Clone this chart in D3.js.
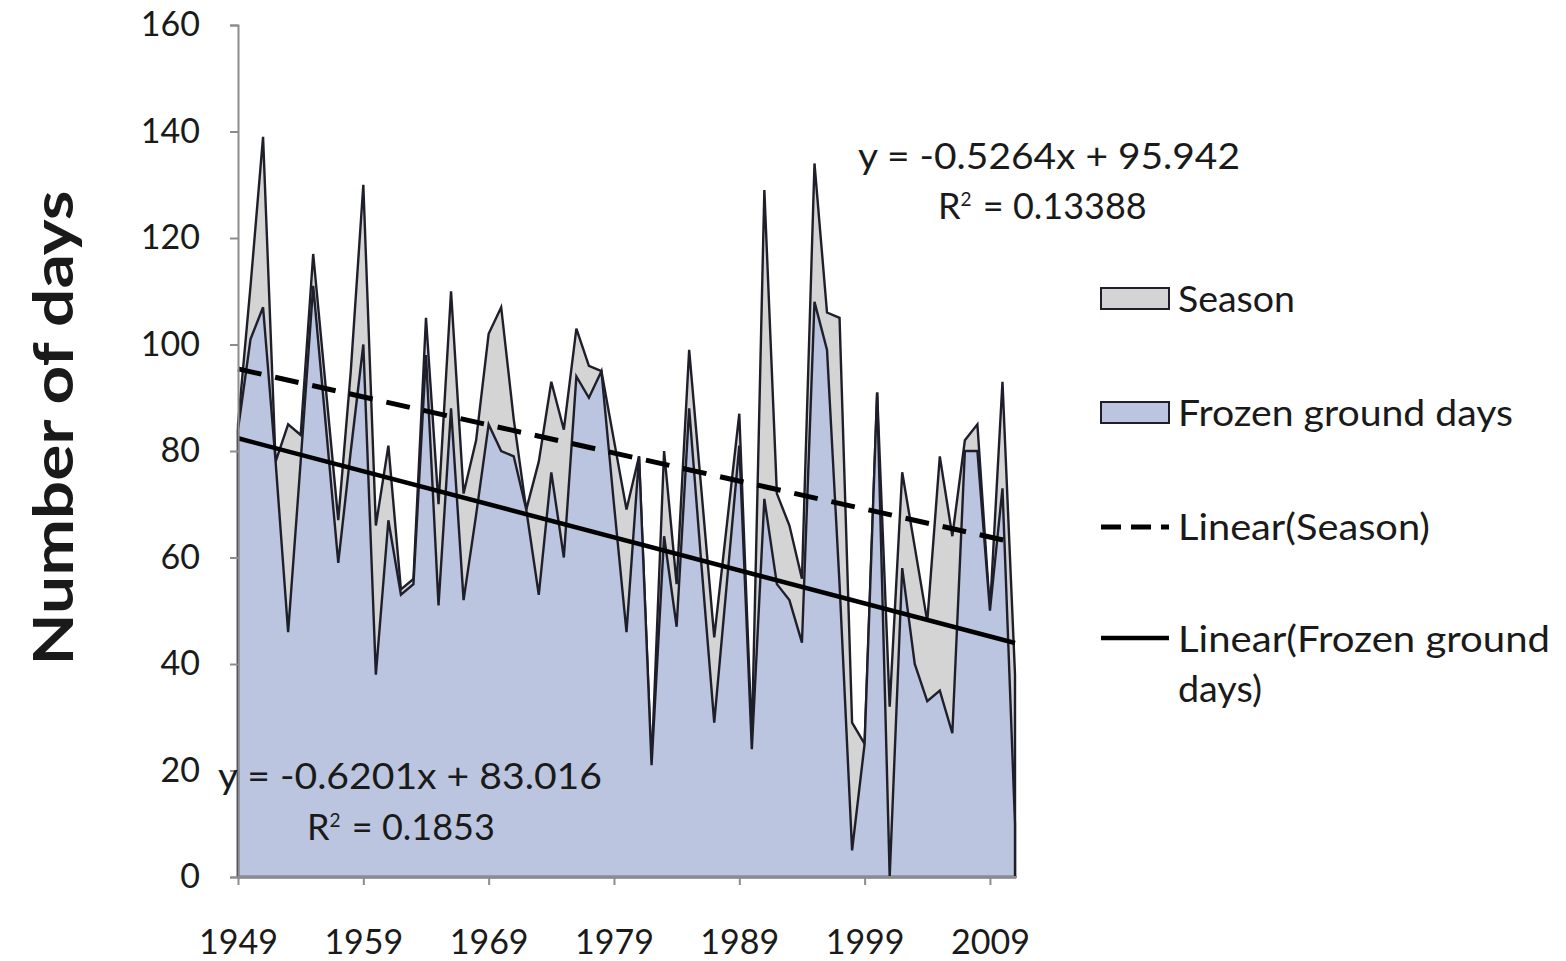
<!DOCTYPE html>
<html>
<head>
<meta charset="utf-8">
<script src="https://cdn.jsdelivr.net/npm/d3@7"></script>
<style>
  html, body { margin: 0; padding: 0; background: #fff; }
  svg { display: block; }
  text { font-family: Lato, "Open Sans", sans-serif; fill: #1a1a1a; }
</style>
</head>
<body>
<svg id="chart" width="1566" height="961"></svg>
<script>
// Years on the category axis
const years = d3.range(1949, 2012);
// Tick labels shown along the axes
const yearTicks = [1949, 1959, 1969, 1979, 1989, 1999, 2009];
const dayTicks = [0, 20, 40, 60, 80, 100, 120, 140, 160];

// Length of the season (days), 1949-2011
const season = [
  85, 111, 139, 78, 85, 83, 117, 92, 67, 95,
  130, 66, 81, 54, 56, 105, 70, 110, 72, 82,
  102, 107, 86, 69, 78, 93, 84, 103, 96, 95,
  82, 69, 79, 21, 80, 55, 99, 72, 45, 66,
  87, 26, 129, 72, 66, 56, 134, 106, 105, 29,
  25, 91, 32, 76, 62, 48, 79, 64, 82, 85,
  50, 93, 38
];
// Frozen ground days, 1949-2011
const frozen = [
  84, 101, 107, 78, 46, 78, 111, 85, 59, 80,
  100, 38, 67, 53, 55, 98, 51, 88, 52, 68,
  85, 80, 79, 69, 53, 76, 60, 94, 90, 95,
  70, 46, 79, 21, 64, 47, 88, 58, 29, 55,
  81, 24, 71, 55, 52, 44, 108, 99, 55, 5,
  25, 91, 0, 58, 40, 33, 35, 27, 80, 80,
  50, 73, 10
];

// Linear fits (x = 1..n)
const seasonFit = { slope: -0.5264, intercept: 95.942, r2: "0.13388" };
const frozenFit = { slope: -0.6201, intercept: 83.016, r2: "0.1853" };

const svg = d3.select("#chart");
const x = d3.scaleLinear().domain([1949, 2011]).range([238, 1015]);
const y = d3.scaleLinear().domain([0, 160]).range([877, 25]);

const outline = "#1e1f2b";

// Areas: season behind, frozen ground days in front
const area = vals => d3.area()
  .x((d, i) => x(years[i]))
  .y0(y(0))
  .y1(d => y(d))(vals);

svg.append("path").attr("d", area(season))
  .attr("fill", "#d4d4d4").attr("stroke", outline).attr("stroke-width", 2.4);
svg.append("path").attr("d", area(frozen))
  .attr("fill", "#bcc5df").attr("stroke", outline).attr("stroke-width", 2.4);

// Trend lines
const fitLine = f => d3.line()
  .x(d => x(d))
  .y(d => y(f.slope * (d - 1948) + f.intercept))([1949, 2011]);

svg.append("path").attr("d", fitLine(seasonFit))
  .attr("fill", "none").attr("stroke", "#000").attr("stroke-width", 5)
  .attr("stroke-dasharray", "24,14");
svg.append("path").attr("d", fitLine(frozenFit))
  .attr("fill", "none").attr("stroke", "#000").attr("stroke-width", 4.5);

// Axes
const axisColor = "#8c8c8c";
const yAxis = svg.append("g").attr("transform", `translate(${x(1949)},0)`)
  .call(d3.axisLeft(y).tickValues(dayTicks).tickSize(8).tickPadding(30).tickFormat(d3.format("d")));
const xAxis = svg.append("g").attr("transform", `translate(0,${y(0)})`)
  .call(d3.axisBottom(x).tickValues(yearTicks).tickSize(8).tickPadding(45).tickFormat(d3.format("d")));
xAxis.select(".domain").attr("d", `M${x(1949)},0H${x(2011) + 2}`);
[yAxis, xAxis].forEach(g => {
  g.select(".domain").attr("stroke", axisColor).attr("stroke-width", 2);
  g.selectAll(".tick line").attr("stroke", axisColor).attr("stroke-width", 2);
  g.selectAll(".tick text").style("font-size", "34px").style("font-family", "Lato, sans-serif")
    .attr("fill", "#1a1a1a");
});

// Y axis title
svg.append("text")
  .attr("transform", "translate(73,428) rotate(-90)")
  .attr("text-anchor", "middle")
  .attr("textLength", 475).attr("lengthAdjust", "spacingAndGlyphs")
  .style("font-size", "55px").style("font-weight", "bold")
  .attr("fill", "#5a2a12")
  .text("Number of days");

// Equation labels
const eq = (f) => `y = ${f.slope}x + ${f.intercept}`;
const label = (tx, ty, txt, len) => svg.append("text").attr("x", tx).attr("y", ty)
  .attr("textLength", len).attr("lengthAdjust", "spacingAndGlyphs")
  .style("font-size", "36px").text(txt);
label(858, 169, eq(seasonFit), 382);
label(218, 789, eq(frozenFit), 384);

const r2Label = (tx, ty, val) => {
  const t = svg.append("text").attr("x", tx).attr("y", ty).style("font-size", "36px");
  t.append("tspan").text("R");
  t.append("tspan").attr("dy", -13).style("font-size", "19px").text("2");
  t.append("tspan").attr("dy", 13).attr("dx", 2).text(" = " + val);
  return t;
};
r2Label(938, 219, seasonFit.r2);
r2Label(307, 840, frozenFit.r2);

// Legend
const lg = svg.append("g");
const lx = 1101, lw = 68;
lg.append("rect").attr("x", lx).attr("y", 288).attr("width", lw).attr("height", 21)
  .attr("fill", "#d4d4d4").attr("stroke", outline).attr("stroke-width", 2);
lg.append("rect").attr("x", lx).attr("y", 402).attr("width", lw).attr("height", 21)
  .attr("fill", "#bcc5df").attr("stroke", outline).attr("stroke-width", 2);
lg.append("line").attr("x1", lx).attr("x2", lx + lw).attr("y1", 527).attr("y2", 527)
  .attr("stroke", "#000").attr("stroke-width", 5).attr("stroke-dasharray", "20,10");
lg.append("line").attr("x1", lx).attr("x2", lx + lw).attr("y1", 638).attr("y2", 638)
  .attr("stroke", "#000").attr("stroke-width", 4.5);
const legendItems = [
  ["Season", 312, 117], ["Frozen ground days", 426, 335], ["Linear(Season)", 540, 252],
  ["Linear(Frozen ground", 652, 372], ["days)", 702, 84]
];
legendItems.forEach(([t, ty, len]) => lg.append("text").attr("x", 1178).attr("y", ty)
  .attr("textLength", len).attr("lengthAdjust", "spacingAndGlyphs")
  .style("font-size", "36px").text(t));
</script>
</body>
</html>
